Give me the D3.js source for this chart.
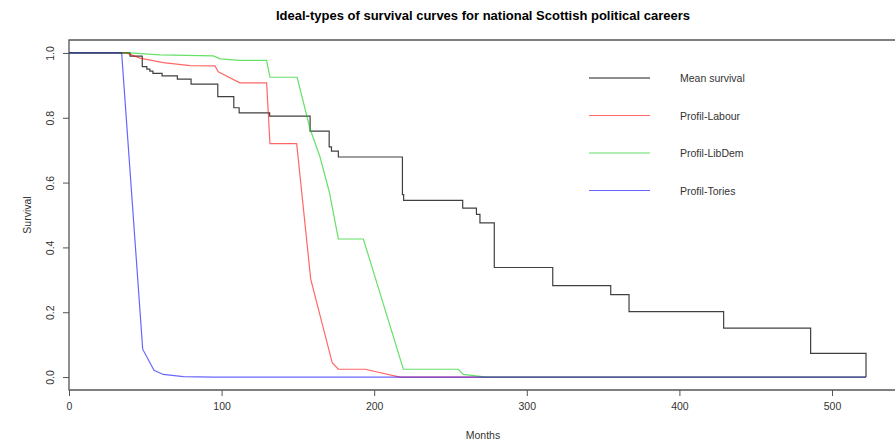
<!DOCTYPE html>
<html>
<head>
<meta charset="utf-8">
<script src="https://cdn.jsdelivr.net/npm/d3@7"></script>
<style>
  body { margin: 0; background: #fff; }
  svg { display: block; font-family: "Liberation Sans", Arial, sans-serif; }
</style>
</head>
<body>
<div id="chart"></div>
<script>
// months / survival
const meanMonths = [0, 40, 48, 51, 53, 55, 61, 71, 80, 97.5, 108, 111.5, 131.5, 158, 170.5, 172, 176.5, 218.5, 219.3, 258, 267, 269.3, 278.7, 317, 355, 367, 429, 486, 522.3];
const meanSurv   = [1, 0.99, 0.958, 0.95, 0.944, 0.937, 0.929, 0.919, 0.904, 0.865, 0.831, 0.815, 0.805, 0.759, 0.71, 0.697, 0.679, 0.563, 0.545, 0.521, 0.502, 0.476, 0.338, 0.282, 0.254, 0.202, 0.151, 0.073, 0];

const labourMonths = [0, 37.5, 46.5, 61.8, 79.3, 95.7, 97.8, 112, 129.5, 131.7, 149.2, 158.4, 172.5, 176.5, 194, 216.9, 522.3];
const labourSurv   = [1, 1, 0.984, 0.97, 0.961, 0.96, 0.942, 0.908, 0.908, 0.72, 0.72, 0.302, 0.044, 0.024, 0.024, 0, 0];

const libdemMonths = [0, 40, 59.6, 94.6, 99, 112, 129.5, 131.7, 149.5, 157.9, 164.5, 170.6, 176.5, 192.9, 219.1, 255.1, 258.4, 273.7, 522.3];
const libdemSurv   = [1, 1, 0.994, 0.991, 0.982, 0.977, 0.977, 0.925, 0.925, 0.767, 0.679, 0.571, 0.426, 0.426, 0.024, 0.024, 0.008, 0, 0];

const toriesMonths = [0, 34.5, 48.3, 55.7, 61.8, 74.9, 95, 522.3];
const toriesSurv   = [1, 1, 0.086, 0.021, 0.008, 0.001, 0, 0];

const xTicks = [0, 100, 200, 300, 400, 500];
const yTicks = [0, 0.2, 0.4, 0.6, 0.8, 1.0];
const seriesNames = ["Mean survival", "Profil-Labour", "Profil-LibDem", "Profil-Tories"];
const seriesColors = ["#000000", "#ff0000", "#00cc00", "#0000ff"];

const width = 895, height = 447;
const margin = { left: 69, right: -2, top: 40, bottom: 57 };

const svg = d3.select("#chart").append("svg")
  .attr("width", width)
  .attr("height", height);

const x = d3.scaleLinear().domain([0, 542.6]).range([margin.left, width - margin.right]);
const y = d3.scaleLinear().domain([-0.04, 1.04]).range([height - margin.bottom, margin.top]);

// title
svg.append("text")
  .attr("x", (margin.left + width - margin.right) / 2)
  .attr("y", 20)
  .attr("text-anchor", "middle")
  .attr("font-size", "13px")
  .attr("font-weight", "bold")
  .attr("fill", "#000")
  .text("Ideal-types of survival curves for national Scottish political careers");

// box (right side falls off the picture)
svg.append("path")
  .attr("d", `M${x.range()[1]},${y.range()[1]}H${margin.left}V${y.range()[0]}H${x.range()[1]}`)
  .attr("fill", "none")
  .attr("stroke", "#555")
  .attr("stroke-width", 1.3);

// axes
const xAxis = svg.append("g")
  .attr("transform", `translate(0,${y.range()[0]})`)
  .call(d3.axisBottom(x).tickValues(xTicks).tickSize(6).tickPadding(7).tickFormat(d3.format("d")));
xAxis.select(".domain").remove();

const yAxis = svg.append("g")
  .attr("transform", `translate(${margin.left},0)`)
  .call(d3.axisLeft(y).tickValues(yTicks).tickSize(6).tickFormat(d3.format(".1f")));
yAxis.select(".domain").remove();
yAxis.selectAll(".tick text")
  .attr("transform", "rotate(-90)")
  .attr("x", 0)
  .attr("y", -15)
  .attr("dy", 0)
  .attr("text-anchor", "middle");

svg.selectAll(".tick line").attr("stroke", "#555");
svg.selectAll(".tick text")
  .attr("font-size", "10.5px")
  .attr("font-family", "Liberation Sans, Arial, sans-serif")
  .attr("fill", "#333");

// axis labels
svg.append("text")
  .attr("x", (margin.left + width - margin.right) / 2)
  .attr("y", 439)
  .attr("text-anchor", "middle")
  .attr("font-size", "10.5px")
  .attr("fill", "#333")
  .text("Months");

svg.append("text")
  .attr("transform", `translate(31,${(y.range()[0] + y.range()[1]) / 2}) rotate(-90)`)
  .attr("text-anchor", "middle")
  .attr("font-size", "10.5px")
  .attr("fill", "#333")
  .text("Survival");

// curves
const lineLinear = d3.line().x(d => x(d[0])).y(d => y(d[1]));
const lineStep = d3.line().x(d => x(d[0])).y(d => y(d[1])).curve(d3.curveStepAfter);

const series = [
  { pts: d3.zip(meanMonths, meanSurv), gen: lineStep },
  { pts: d3.zip(labourMonths, labourSurv), gen: lineLinear },
  { pts: d3.zip(libdemMonths, libdemSurv), gen: lineLinear },
  { pts: d3.zip(toriesMonths, toriesSurv), gen: lineLinear }
];

series.forEach((s, i) => {
  svg.append("path")
    .attr("d", s.gen(s.pts))
    .attr("fill", "none")
    .attr("stroke", seriesColors[i])
    .attr("stroke-opacity", i === 0 ? 0.75 : 0.6)
    .attr("stroke-width", 1.2);
});

// legend
const legend = svg.append("g").attr("transform", "translate(589,78)");
const items = legend.selectAll("g")
  .data(seriesNames)
  .enter().append("g")
  .attr("transform", (d, i) => `translate(0,${i * 37.5})`);

items.append("line")
  .attr("x1", 0).attr("x2", 61)
  .attr("y1", 0).attr("y2", 0)
  .attr("stroke", (d, i) => seriesColors[i])
  .attr("stroke-opacity", (d, i) => i === 0 ? 0.6 : 0.6)
  .attr("stroke-width", (d, i) => i === 0 ? 1.6 : 1.2);

items.append("text")
  .attr("x", 91)
  .attr("y", 4)
  .attr("font-size", "10.5px")
  .attr("fill", "#333")
  .text(d => d);
</script>
</body>
</html>
